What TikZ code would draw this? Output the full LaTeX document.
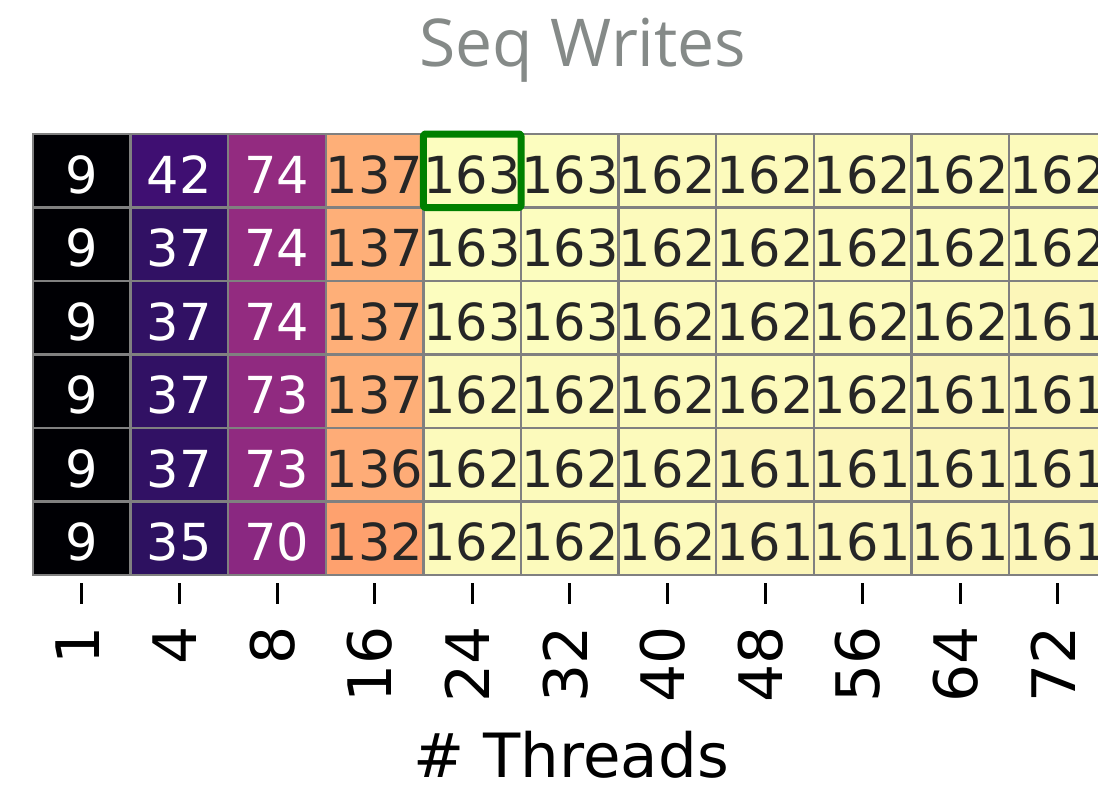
\documentclass[tikz,border=0pt]{standalone}
\usepackage{fontspec}
\setmainfont{DejaVu Sans}
\newfontfamily\titlefont{Open Sans}
\definecolor{v9}{HTML}{000004}
\definecolor{v35}{HTML}{2D1160}
\definecolor{v37}{HTML}{311164}
\definecolor{v42}{HTML}{3F0F72}
\definecolor{v70}{HTML}{8A2881}
\definecolor{v73}{HTML}{902A80}
\definecolor{v74}{HTML}{932B80}
\definecolor{v132}{HTML}{FEA16E}
\definecolor{v136}{HTML}{FEAC77}
\definecolor{v137}{HTML}{FEAF78}
\definecolor{v161}{HTML}{FCF6B9}
\definecolor{v162}{HTML}{FCFABC}
\definecolor{v163}{HTML}{FCFDBF}
\definecolor{gridgray}{HTML}{808080}
\definecolor{darktext}{HTML}{262626}
\definecolor{titlegray}{HTML}{858A88}
\definecolor{hlgreen}{HTML}{008000}
\begin{document}
\begin{tikzpicture}[x=1pt,y=-1pt,
  cell/.style={draw=gridgray, line width=2.4pt, minimum width=97.6pt, minimum height=73.5pt, inner sep=0pt, outer sep=0pt},
  num/.style={inner sep=0pt, font=\fontsize{51}{51}\selectfont},
  ticklabel/.style={inner sep=0pt, rotate=90, anchor=east, font=\fontsize{60}{60}\selectfont},
  tickmark/.style={line width=3pt, black},
  highlight/.style={draw=hlgreen, line width=7pt, rounded corners=2pt, line join=round}]
\useasboundingbox (0,0) rectangle (1098,793);
\begin{scope}
\clip (0,0) rectangle (1098,793);
\foreach \row [count=\r] in {
  {9,42,74,137,163,163,162,162,162,162,162},
  {9,37,74,137,163,163,162,162,162,162,162},
  {9,37,74,137,163,163,162,162,162,162,161},
  {9,37,73,137,162,162,162,162,162,161,161},
  {9,37,73,136,162,162,162,161,161,161,161},
  {9,35,70,132,162,162,162,161,161,161,161}} {
  \foreach \v [count=\c] in \row {
    \pgfmathsetmacro\cx{33+97.6*(\c-0.5)}
    \pgfmathsetmacro\cy{134+73.5*(\r-0.5)}
    \ifnum\v<100 \def\tc{white}\else\def\tc{darktext}\fi
    \node[cell, fill=v\v] (cell-\r-\c) at (\cx,\cy) {};
    \node[num, text=\tc] (num-\r-\c) at ([yshift=-4pt]cell-\r-\c.center) {\v};
  }
}
\draw[highlight] (cell-1-5.north west) rectangle (cell-1-5.south east);
\foreach \lab [count=\c] in {1,4,8,16,24,32,40,48,56,64,72} {
  \pgfmathsetmacro\cx{33+97.6*(\c-0.5)}
  \coordinate (tick-\c) at (\cx,583);
  \coordinate (tickend-\c) at (\cx,604);
  \draw[tickmark] (tick-\c) -- (tickend-\c);
  \node[ticklabel] (ticklab-\c) at (\cx-4.5,626) {\lab};
}
\end{scope}
\node[anchor=base, inner sep=0pt, font=\fontsize{61}{61}\selectfont] (xlabel) at (571,777) {\# Threads};
\node[anchor=base, inner sep=0pt, text=titlegray, font=\titlefont\fontsize{66}{66}\selectfont] (title) at (583,66) {Seq Writes};
\end{tikzpicture}
\end{document}
